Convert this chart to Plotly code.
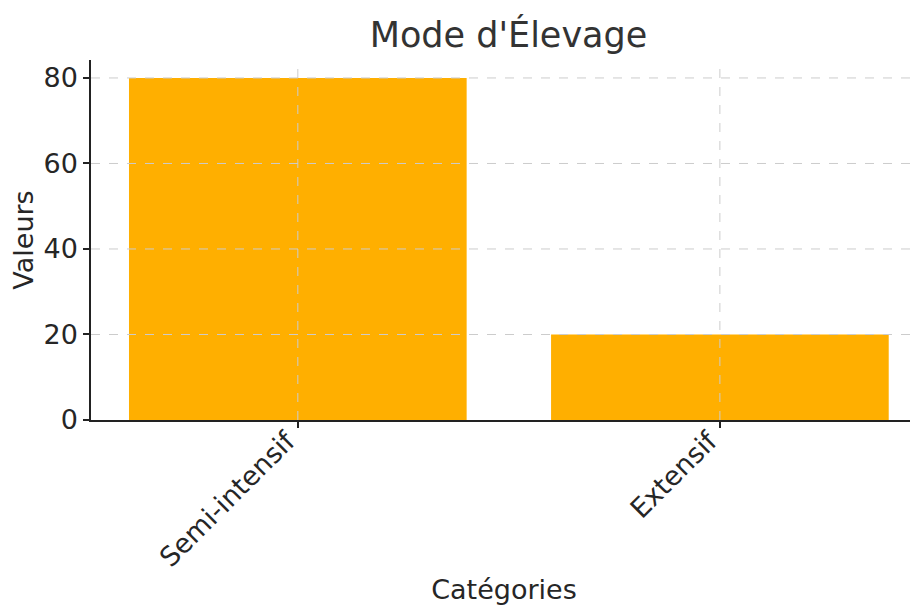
import plotly.graph_objects as go

categories = ["Semi-intensif", "Extensif"]
values = [80, 20]
y_ticks = [0, 20, 40, 60, 80]
title_text = "Mode d'Élevage"
x_title = "Catégories"
y_title = "Valeurs"

bar_color = "#FFAF00"
grid_color = "#cccccc"
text_color = "#262626"
font_family = "DejaVu Sans"

fig = go.Figure()
fig.add_trace(go.Bar(x=categories, y=values, marker=dict(color=bar_color, line=dict(width=0)), width=0.8))

shapes = []
for yv in y_ticks[1:]:
    shapes.append(dict(type="line", xref="paper", yref="y", x0=0, x1=1, y0=yv, y1=yv,
                       line=dict(color=grid_color, width=1, dash="dash"), layer="above"))
for c in categories:
    shapes.append(dict(type="line", xref="x", yref="paper", x0=c, x1=c, y0=0, y1=1,
                       line=dict(color=grid_color, width=1, dash="dash"), layer="above"))

# page body has an 8px margin; figure sized so its right/bottom edges meet the window edges
fig.update_layout(
    width=910, height=597,
    margin=dict(l=83, r=1, t=52, b=185),
    paper_bgcolor="white", plot_bgcolor="white",
    font=dict(family=font_family, color=text_color, size=28),
    title=dict(text=title_text, x=0.55, xanchor="center", y=0.955, yanchor="middle",
               font=dict(size=35, color="#333333")),
    shapes=shapes,
    showlegend=False,
)
fig.update_xaxes(
    range=[-0.49, 1.467], showgrid=False, showline=True, linecolor="#222222", linewidth=1.5,
    ticks="outside", ticklen=6, tickwidth=1.5, tickcolor="#222222", tickangle=-45,
    tickfont=dict(size=27), ticklabelstandoff=-13, ticklabelshift=-11,
    title=dict(text=x_title, font=dict(size=27)),
    zeroline=False, automargin=False,
)
fig.update_yaxes(
    range=[0, 84.2], tickvals=y_ticks, showgrid=False, showline=True, linecolor="#222222", linewidth=1.5,
    ticks="outside", ticklen=6, tickwidth=1.5, tickcolor="#222222",
    tickfont=dict(size=27), title=dict(text=y_title, font=dict(size=27)),
    zeroline=False, automargin=False,
)

fig.write_html("out.html")
